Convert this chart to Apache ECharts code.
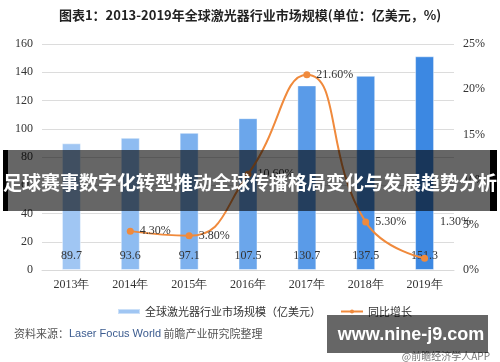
<!DOCTYPE html>
<html><head><meta charset="utf-8">
<script src="https://cdn.jsdelivr.net/npm/echarts@6/dist/echarts.min.js"></script>
<style>html,body{margin:0;padding:0;background:#fff}#c{width:500px;height:362px}</style>
</head><body><div id="c"></div>
<script>
const categories = ['2013年','2014年','2015年','2016年','2017年','2018年','2019年'];
const marketSize = [89.7, 93.6, 97.1, 107.5, 130.7, 137.5, 151.3];
const growth = [null, 4.3, 3.8, 10.6, 21.6, 5.3, 1.3];
const leftTicks = {min: 0, max: 160, interval: 20};
const rightTicks = {min: 0, max: 25, interval: 5};
const seriesNames = ['全球激光器行业市场规模（亿美元）', '同比增长'];

const barColors = ['#a0c6f3','#8ebcf1','#7db1ee','#6ba6eb','#5a9be8','#4a91e5','#3c88e2'];
const serif = 'Liberation Serif';
const cjk = 'Noto Sans CJK SC';

const chart = echarts.init(document.getElementById('c'), null, {renderer: 'canvas'});
chart.setOption({
  animation: false,
  grid: {left: 42, right: 46, top: 44, bottom: 92},
  legend: {
    left: 112, top: 301, itemGap: 19, itemWidth: 22, itemHeight: 5,
    textStyle: {fontFamily: cjk, fontSize: 11, color: '#333'},
    data: [
      {name: seriesNames[0], icon: 'rect', itemStyle: {color: '#a0c6f3'}},
      {name: seriesNames[1]}
    ]
  },
  xAxis: {
    type: 'category', data: categories,
    axisLine: {lineStyle: {color: '#d9d9d9'}},
    axisTick: {show: false},
    axisLabel: {fontFamily: serif, fontSize: 12, color: '#333', margin: 9}
  },
  yAxis: [
    {type: 'value', min: leftTicks.min, max: leftTicks.max, interval: leftTicks.interval,
     axisLine: {show: false}, axisTick: {show: false},
     splitLine: {lineStyle: {color: '#dcdcdc'}},
     axisLabel: {fontFamily: serif, fontSize: 12, color: '#333', margin: 9}},
    {type: 'value', min: rightTicks.min, max: rightTicks.max, interval: rightTicks.interval,
     axisLine: {show: false}, axisTick: {show: false}, splitLine: {show: false},
     axisLabel: {fontFamily: serif, fontSize: 12, color: '#333', margin: 9, formatter: '{value}%'}}
  ],
  series: [
    {
      name: seriesNames[0], type: 'bar', barWidth: 19, yAxisIndex: 0,
      data: marketSize.map((v, i) => ({value: v, itemStyle: {color: barColors[i]}})),
      itemStyle: {borderColor: 'rgba(255,255,255,0.45)', borderWidth: 1},
      label: {show: true, position: 'insideBottom', distance: 8,
              fontFamily: serif, fontSize: 12, color: '#333'}
    },
    {
      name: seriesNames[1], type: 'line', yAxisIndex: 1, smooth: 0.5,
      symbol: 'circle', symbolSize: 7, connectNulls: false,
      lineStyle: {color: '#f08a3c', width: 2}, itemStyle: {color: '#f08a3c'},
      data: growth.map((v, i) => {
        if (i === growth.length - 1) {
          return {value: v, label: {offset: [6, -36]}};
        }
        return {value: v};
      }),
      label: {show: true, position: 'right', distance: 6,
              fontFamily: serif, fontSize: 12, color: '#333',
              formatter: p => p.value == null ? '' : p.value.toFixed(2) + '%'}
    }
  ],
  graphic: [
    {type: 'text', left: 'center', top: 9, style: {
      text: '图表1：2013-2019年全球激光器行业市场规模(单位：亿美元，%)',
      font: 'bold 13px "Noto Sans CJK SC"', fill: '#222'}},
    {type: 'text', left: 14, top: 328, style: {
      text: '{a|资料来源：}{b|Laser Focus World}{a| 前瞻产业研究院整理}',
      rich: {
        a: {fontFamily: cjk, fontSize: 11, fill: '#555'},
        b: {fontFamily: 'Liberation Sans', fontSize: 11, fill: '#3b5b8f'}
      }}},
    {type: 'text', right: 10, top: 351, z: 1, style: {
      text: '@前瞻经济学人APP', font: '10px "Noto Sans CJK SC"', fill: '#777'}},
    {type: 'rect', z: 100, shape: {x: 3, y: 150, width: 5, height: 61}, style: {fill: '#000'}},
    {type: 'rect', z: 100, shape: {x: 8, y: 150, width: 482, height: 61}, style: {fill: 'rgba(0,0,0,0.6)'}},
    {type: 'rect', z: 100, shape: {x: 490, y: 150, width: 7, height: 61}, style: {fill: '#000'}},
    {type: 'text', z: 101, x: 250, y: 183, style: {
      text: '足球赛事数字化转型推动全球传播格局变化与发展趋势分析',
      font: 'bold 19px "Noto Sans CJK SC"', fill: '#fff', align: 'center', verticalAlign: 'middle'}},
    {type: 'rect', z: 100, shape: {x: 327, y: 315, width: 161, height: 38}, style: {fill: 'rgba(0,0,0,0.6)'}},
    {type: 'text', z: 101, x: 411, y: 335, style: {
      text: 'www.nine-j9.com', font: 'bold 18px "Liberation Sans"', fill: '#fff',
      align: 'center', verticalAlign: 'middle'}}
  ]
});
</script></body></html>
